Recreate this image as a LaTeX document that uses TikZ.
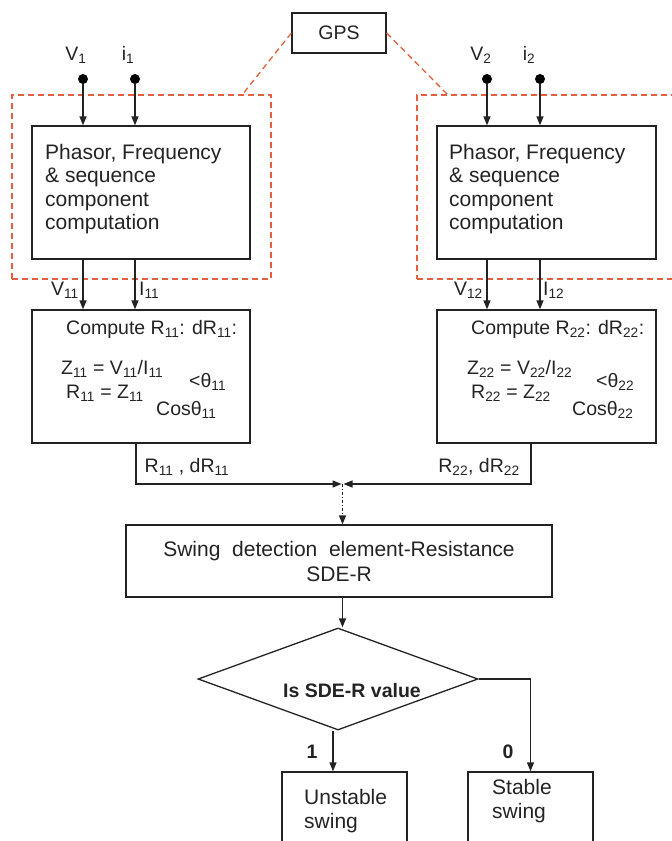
\documentclass[tikz,border=0pt]{standalone}
\usepackage{fontspec}
\setmainfont{Liberation Sans}
\usetikzlibrary{shapes.geometric, arrows.meta, positioning}
\definecolor{gpsred}{RGB}{226,96,62}
\definecolor{ink}{RGB}{35,35,35}
\tikzset{
    x=1pt, y=-1pt, % one unit per pixel, y runs downwards
    >={Triangle[length=9pt, width=7pt]}, % filled arrow heads
    every node/.style={font=\fontsize{19.5}{23.5}\selectfont, text=ink}, % Arial-like text
    bigtxt/.style={font=\fontsize{21}{23.5}\selectfont}, % wider block texts
    block/.style={draw=ink, line width=1.3pt, inner sep=0pt}, % plain boxes
    zone/.style={draw=gpsred, line width=1.3pt, dash pattern=on 6pt off 4pt}, % red dashed frames
    dot/.style={circle, fill=black, inner sep=0pt, minimum size=10pt}, % input terminals
    wire/.style={draw=ink, line width=1.3pt}, % connectors
    txt/.style={anchor=west, inner sep=0pt}, % free text, left aligned
    boldtxt/.style={font=\bfseries\fontsize{19.5}{23.5}\selectfont},
}

\begin{document}
\begin{tikzpicture}
    \useasboundingbox (0,0) rectangle (672,841);
    \clip (0,0) rectangle (672,841);
    % GPS and the two measuring units
    \node[zone, minimum width=259pt, minimum height=184pt, inner sep=0pt] (zone1) at (141.5,187) {};
    \node[zone, minimum width=283pt, minimum height=184pt, inner sep=0pt] (zone2) at (558.5,187) {};
    \node[block, minimum width=94pt, minimum height=40pt] (gps) at (339,33) {GPS};
    \coordinate (g1) at (242,95);
    \coordinate (g2) at (448,95);
    \draw[zone] (gps.west) -- (g1);
    \draw[zone] (gps.east) -- (g2);
    \node[dot] (v1) at (83,79) {};
    \node[dot] (i1) at (135,79) {};
    \node[dot] (v2) at (487,79) {};
    \node[dot] (i2) at (540,79) {};
    \node (lv1) at (76,55) {V\textsubscript{1}};
    \node (li1) at (128,55) {i\textsubscript{1}};
    \node (lv2) at (481,55) {V\textsubscript{2}};
    \node (li2) at (529,55) {i\textsubscript{2}};
    \node[block, minimum width=218pt, minimum height=133pt] (proc1) at (141,192.5) {};
    \node[block, minimum width=219pt, minimum height=133pt] (proc2) at (546.5,192.5) {};
    \node[txt, bigtxt, align=left] (proc1txt) at (45,189) {Phasor, Frequency\\\& sequence\\component\\computation};
    \node[txt, bigtxt, align=left] (proc2txt) at (449,189) {Phasor, Frequency\\\& sequence\\component\\computation};
    \draw[wire, ->] (v1) -- (v1 |- proc1.north);
    \draw[wire, ->] (i1) -- (i1 |- proc1.north);
    \draw[wire, ->] (v2) -- (v2 |- proc2.north);
    \draw[wire, ->] (i2) -- (i2 |- proc2.north);
    % resistance computation
    \node[block, minimum width=218pt, minimum height=133pt] (comp1) at (141,376.5) {};
    \node[block, minimum width=219pt, minimum height=133pt] (comp2) at (546.5,376.5) {};
    \draw[wire, ->] (v1 |- proc1.south) -- (v1 |- comp1.north);
    \draw[wire, ->] (i1 |- proc1.south) -- (i1 |- comp1.north);
    \draw[wire, ->] (v2 |- proc2.south) -- (v2 |- comp2.north);
    \draw[wire, ->] (i2 |- proc2.south) -- (i2 |- comp2.north);
    \node[anchor=east, inner sep=0pt] (lv11) at (79,290) {V\textsubscript{11}};
    \node[txt] (li11) at (139,290) {I\textsubscript{11}};
    \node[anchor=east, inner sep=0pt] (lv12) at (483,290) {V\textsubscript{12}};
    \node[txt] (li12) at (543,290) {I\textsubscript{12}};
    \node[txt] (cmp1a) at (66,329) {Compute R\textsubscript{11}: dR\textsubscript{11}:};
    \node[txt] (cmp1b) at (61,369) {Z\textsubscript{11} = V\textsubscript{11}/I\textsubscript{11}};
    \node[txt] (cmp1c) at (66,393) {R\textsubscript{11} = Z\textsubscript{11}};
    \node[txt] (cmp1d) at (189,382) {<θ\textsubscript{11}};
    \node[txt] (cmp1e) at (156,410) {Cosθ\textsubscript{11}};
    \node[txt] (cmp2a) at (471,329) {Compute R\textsubscript{22}: dR\textsubscript{22}:};
    \node[txt] (cmp2b) at (467,369) {Z\textsubscript{22} = V\textsubscript{22}/I\textsubscript{22}};
    \node[txt] (cmp2c) at (471,393) {R\textsubscript{22} = Z\textsubscript{22}};
    \node[txt] (cmp2d) at (596,382) {<θ\textsubscript{22}};
    \node[txt] (cmp2e) at (572,410) {Cosθ\textsubscript{22}};
    % merging the two results
    \coordinate (mrg) at (342.5,484);
    \draw[wire, ->] ([xshift=-5pt]comp1.south) |- ([xshift=-1pt]mrg);
    \draw[wire, ->] ([xshift=-15.5pt]comp2.south) |- ([xshift=1pt]mrg);
    \node (r1) at (187,467) {R\textsubscript{11} , dR\textsubscript{11}};
    \node (r2) at (479,467) {R\textsubscript{22}, dR\textsubscript{22}};
    \node[block, minimum width=426pt, minimum height=72pt, align=center,
          font=\fontsize{21}{25}\selectfont] (swing) at (339,561)
          {Swing\ \ detection\ \ element-Resistance\\SDE-R};
    \draw[wire, ->, dash pattern=on 3pt off 2pt on 1pt off 2pt] (mrg) -- (mrg |- swing.north);
    % decision
    \node[block, diamond, aspect=2.75, minimum width=280pt, minimum height=102pt] (dec) at (338,679) {};
    \node[boldtxt] (dectxt) at (352,691) {Is SDE-R value};
    \draw[wire, ->] (swing.south -| mrg) -- (mrg |- dec.north);
    \node[block, minimum width=125pt, minimum height=110pt] (unst) at (344.5,827) {};
    \node[block, minimum width=125pt, minimum height=110pt] (stab) at (530.5,827) {};
    \node[txt, bigtxt, align=left] (unsttxt) at (304,811) {Unstable\\swing};
    \node[txt, bigtxt, align=left] (stabtxt) at (492,801) {Stable\\swing};
    \draw[wire, ->] ([xshift=-5pt]dec.south) -- ([xshift=-5pt]dec.south |- unst.north);
    \draw[wire, ->] (dec.east) -| (stab.north);
    \node[boldtxt] (one) at (312,752) {1};
    \node[boldtxt] (zero) at (508,752) {0};
\end{tikzpicture}
\end{document}
